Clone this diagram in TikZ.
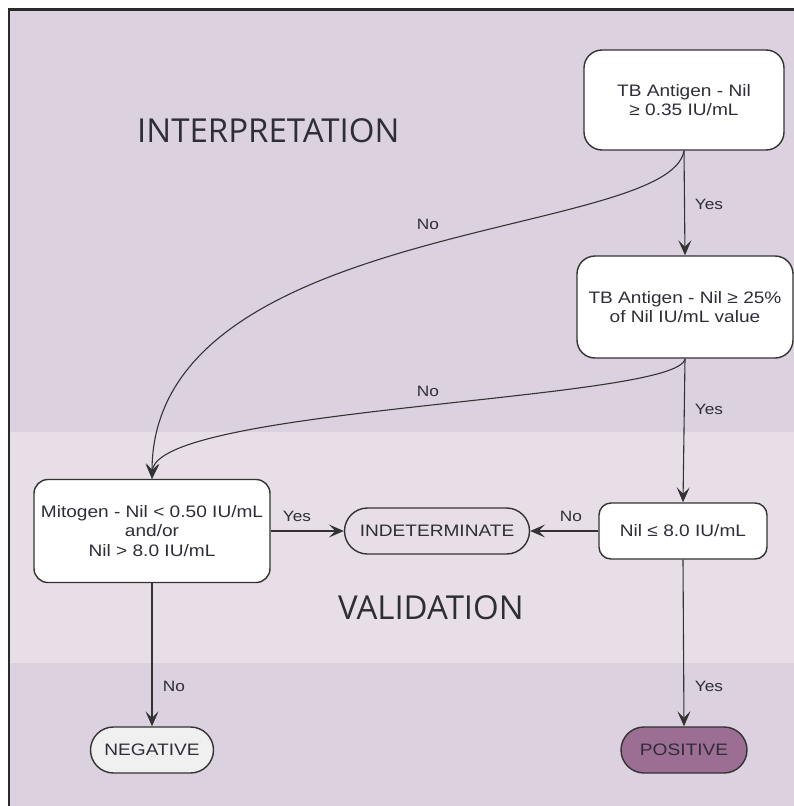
\documentclass[tikz,border=0pt]{standalone}
\usepackage{fontspec}
\setmainfont{Liberation Sans}[FakeStretch=1.15]
\newfontfamily\titlefont{Open Sans}
\usetikzlibrary{arrows.meta}
\definecolor{bandA}{HTML}{DCD1DF}
\definecolor{bandB}{HTML}{E8DEE7}
\definecolor{framecol}{HTML}{2A2A2A}
\definecolor{boxline}{HTML}{333333}
\definecolor{txt}{HTML}{2E2E38}
\definecolor{posfill}{HTML}{9C6E94}
\definecolor{negfill}{HTML}{F0F0F0}
\begin{document}
\begin{tikzpicture}[x=1pt,y=-1pt,
  box/.style={draw=boxline, line width=1.4pt, fill=white, rounded corners=18pt,
    align=center, font=\fontsize{16.6}{19.5}\selectfont, text=txt, inner sep=0pt},
  oval/.style={draw=boxline, line width=1.4pt, rounded corners=23pt,
    align=center, font=\fontsize{16.6}{19.5}\selectfont, text=txt, inner sep=0pt,
    minimum height=46pt},
  conn/.style={draw=boxline, line width=1.1pt, -{Stealth[length=15pt,width=13pt,inset=6.5pt]}},
  lab/.style={font=\fontsize{15}{17}\selectfont, text=txt, inner sep=0pt},
  title/.style={font=\titlefont\fontsize{33}{36}\selectfont, text=txt, inner sep=0pt, anchor=base west}]
\useasboundingbox (0,0) rectangle (794,806);
\fill[bandA] (10,10) rectangle (794,432);
\fill[bandB] (10,432) rectangle (794,663);
\fill[bandA] (10,663) rectangle (794,806);
\draw[line width=2.5pt, framecol] (9,806) -- (9,9.5) -- (794,9.5);

\node[title] (t1) at (137,142) {INTERPRETATION};
\node[title] (t2) at (338,619) {VALIDATION};

\node[box, minimum width=200pt, minimum height=100pt] (a) at (684,100) {TB Antigen - Nil\\≥ 0.35 IU/mL};
\node[box, minimum width=216pt, minimum height=102pt] (b) at (685,307) {TB Antigen - Nil ≥ 25\%\\of Nil IU/mL value};
\node[box, minimum width=236pt, minimum height=103pt, rounded corners=14pt] (c) at (152,531) {Mitogen - Nil < 0.50 IU/mL\\and/or\\Nil > 8.0 IU/mL};
\node[box, minimum width=168pt, minimum height=56pt, rounded corners=12pt] (d) at (683,531) {Nil ≤ 8.0 IU/mL};
\node[oval, minimum width=185pt] (ind) at (437,531) {INDETERMINATE};
\node[oval, minimum width=123pt, fill=negfill] (neg) at (152,750) {NEGATIVE};
\node[oval, minimum width=126pt, fill=posfill] (pos) at (684,750) {POSITIVE};

\draw[conn] (a.south) .. controls +(-14,88) and +(0,-260) .. (c.north);
\draw[conn] (b.south) .. controls +(-5,42) and +(4,-72) .. (c.north);
\draw[conn] (a.south) -- (b.north);
\draw[conn] (b.south) -- (d.north);
\draw[conn] (d.west) -- (ind.east);
\draw[conn] (c.east) -- (ind.west);
\draw[conn] (c.south) -- (neg.north);
\draw[conn] (d.south) -- (pos.north);

\node[lab] (l1) at (428,224) {No};
\node[lab] (l2) at (709,204) {Yes};
\node[lab] (l3) at (428,391) {No};
\node[lab] (l4) at (709,409) {Yes};
\node[lab] (l5) at (297,516) {Yes};
\node[lab] (l6) at (571,516) {No};
\node[lab] (l7) at (174,686) {No};
\node[lab] (l8) at (709,686) {Yes};
\end{tikzpicture}
\end{document}
